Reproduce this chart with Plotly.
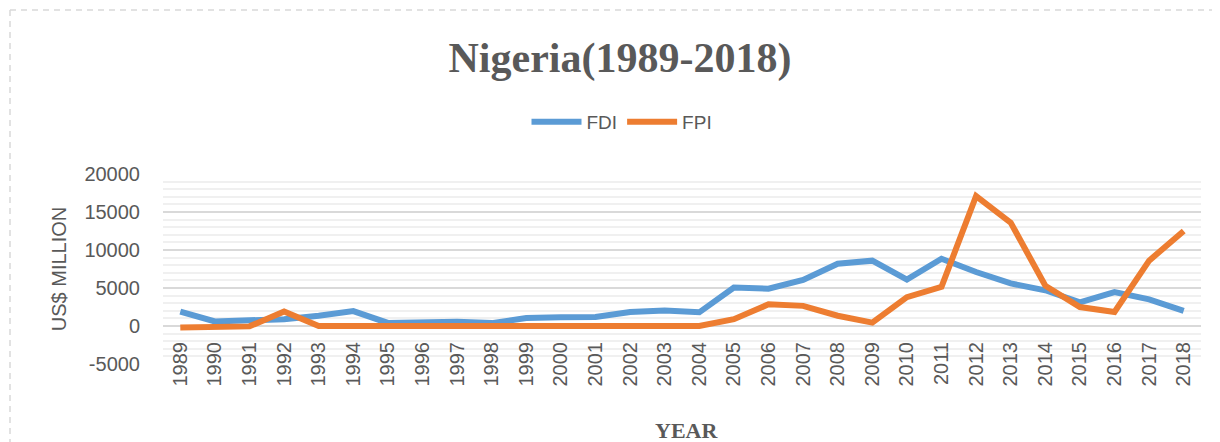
import plotly.graph_objects as go

years = [str(y) for y in range(1989, 2019)]
fdi = [1900, 600, 750, 900, 1350, 1960, 400, 550, 550, 380, 1050, 1150, 1200,
       1850, 2050, 1800, 5050, 4900, 6050, 8200, 8600, 6100, 8850, 7100, 5600,
       4700, 3100, 4450, 3500, 2000]
fpi = [-200, -150, -50, 1900, 0, 0, 0, -100, -50, -50, -50, 0, 0, 0, 0, 0,
       900, 2850, 2650, 1350, 450, 3800, 5150, 17100, 13600, 5300, 2500, 1850,
       8600, 12500]
ytick_vals = [-5000, 0, 5000, 10000, 15000, 20000]
ytick_text = ["-5000", "0", "5000", "10000", "15000", "20000"]

TXT = "#595959"
SANS = "Liberation Sans, Arial, sans-serif"
SERIF = "Liberation Serif, Times New Roman, serif"

fig = go.Figure()
fig.add_trace(go.Scatter(x=years, y=fdi, name="FDI", mode="lines",
                         line=dict(color="#5B9BD5", width=6)))
fig.add_trace(go.Scatter(x=years, y=fpi, name="FPI", mode="lines",
                         line=dict(color="#ED7D31", width=6)))

# page body has an 8px margin; figure coordinates = window coordinates - 8
OFF = 8
W, H = 1220 - OFF, 442 - OFF
L, R, T, B = 163 - OFF, 19, 174 - OFF, 78
pw, ph = W - L - R, H - T - B


def px_x(p):
    return (p - OFF - L) / pw


def px_y(p):
    return (H - B - (p - OFF)) / ph


dash = dict(color="#D9D9D9", width=1.5, dash="6px,5px")
fig.add_shape(type="line", xref="paper", yref="paper",
              x0=px_x(10), x1=px_x(1240), y0=px_y(10), y1=px_y(10), line=dash)
fig.add_shape(type="line", xref="paper", yref="paper",
              x0=px_x(10), x1=px_x(10), y0=px_y(10), y1=px_y(460), line=dash)

fig.update_layout(
    width=W, height=H,
    margin=dict(l=L, r=R, t=T, b=B, pad=0),
    plot_bgcolor="white", paper_bgcolor="white",
    title=dict(text="<b>Nigeria(1989-2018)</b>", x=(620 - OFF) / W, xref="container",
               xanchor="center", y=1 - (57 - OFF) / H, yref="container",
               yanchor="middle",
               font=dict(family=SERIF, size=42, color=TXT)),
    legend=dict(orientation="h", x=(622 - OFF) / W, xref="container",
                xanchor="center", y=1 - (122 - OFF) / H, yref="container",
                yanchor="middle",
                font=dict(family=SANS, size=19, color=TXT),
                itemwidth=50, traceorder="normal"),
    xaxis=dict(type="category", anchor="free", position=0.2,
               range=[-0.5, len(years) - 0.5],
               tickangle=-90, showgrid=False, showline=False, zeroline=False,
               ticks="", ticklabelstandoff=11,
               tickfont=dict(family=SANS, size=20, color=TXT),
               title=None),
    yaxis=dict(range=[-5000, 20000], tickvals=ytick_vals, ticktext=ytick_text,
               showgrid=True, gridcolor="#D9D9D9", gridwidth=1.5,
               zeroline=False, showline=False, ticks="",
               ticklabelstandoff=22,
               minor=dict(dtick=1000, showgrid=True, gridcolor="#F0F0F0",
                          gridwidth=1.5),
               tickfont=dict(family=SANS, size=20, color=TXT),
               title=dict(text="US$ MILLION", standoff=12,
                          font=dict(family=SANS, size=20, color=TXT))),
)

fig.add_annotation(text="<b>YEAR</b>", xref="paper", yref="paper",
                   x=px_x(686), y=px_y(430), xanchor="center", yanchor="middle",
                   showarrow=False, font=dict(family=SERIF, size=22, color=TXT))

fig.write_html("out.html")
